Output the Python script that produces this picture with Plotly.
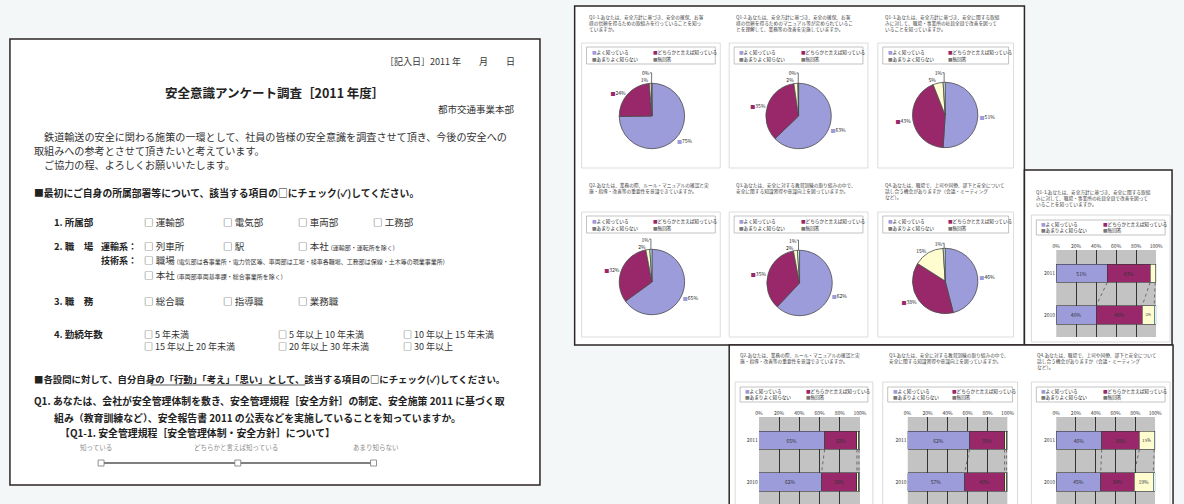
import plotly.graph_objects as go

W, H = 1184, 504
FONT = "Noto Sans CJK JP, Noto Sans, sans-serif"

# ---------------- data ----------------
answer_labels = ["よく知っている", "どちらかと言えば知っている", "あまりよく知らない", "無回答"]
answer_colors = ["#9c9cdb", "#99286a", "#fffcd0", "#cdf9f9"]
years = ["2011", "2010"]
tick_values = [0, 20, 40, 60, 80, 100]
tick_labels = ["0%", "20%", "40%", "60%", "80%", "100%"]

pie_q1_1 = [75, 24, 1, 0.3]
pie_q1_2 = [63, 35, 2, 0.3]
pie_q1_3 = [51, 43, 5, 1]
pie_q2 = [65, 32, 2, 1]
pie_q3 = [62, 35, 2, 1]
pie_q4 = [46, 38, 15, 1]

trend_q1_3_2011 = [51, 43, 5, 1]
trend_q1_3_2010 = [40, 46, 12, 2]
trend_q2_2011 = [65, 32, 2, 1]
trend_q2_2010 = [62, 35, 2, 1]
trend_q3_2011 = [62, 35, 2, 1]
trend_q3_2010 = [57, 40, 2, 1]
trend_q4_2011 = [46, 38, 15, 1]
trend_q4_2010 = [45, 34, 19, 2]

pie_questions = [
    "Q1-1.あなたは、安全方針に基づき、安全の確保、お客<br>様の信頼を得るための取組みを行っていることを知っ<br>ていますか。",
    "Q1-2.あなたは、安全方針に基づき、安全の確保、お客<br>様の信頼を得るためのマニュアル等が定められているこ<br>とを理解して、業務等の改善を実施していますか。",
    "Q1-3.あなたは、安全方針に基づき、安全に関する取組<br>みに対して、職場・事業所の社員全員で改善を図って<br>いることを知っていますか。",
    "Q2.あなたは、業務の際、ルール・マニュアルの確認と実<br>施・指導・改善等の重要性を意識できていますか。",
    "Q3.あなたは、安全に対する教育訓練の取り組みの中で、<br>安全に関する知識習得や意識向上を図っていますか。",
    "Q4.あなたは、職場で、上司や同僚、部下と安全について<br>話し合う機会がありますか（会議・ミーティング<br>など）。",
]
trend_questions = [
    "Q1-3.あなたは、安全方針に基づき、安全に関する取組<br>みに対して、職場・事業所の社員全員で改善を図って<br>いることを知っていますか。",
    "Q2.あなたは、業務の際、ルール・マニュアルの確認と実<br>施・指導・改善等の重要性を意識できていますか。",
    "Q3.あなたは、安全に対する教育訓練の取り組みの中で、<br>安全に関する知識習得や意識向上を図っていますか。",
    "Q4.あなたは、職場で、上司や同僚、部下と安全について<br>話し合う機会がありますか（会議・ミーティング<br>など）。",
]

pies = [pie_q1_1, pie_q1_2, pie_q1_3, pie_q2, pie_q3, pie_q4]
trends = [
    (trend_q1_3_2011, trend_q1_3_2010),
    (trend_q2_2011, trend_q2_2010),
    (trend_q3_2011, trend_q3_2010),
    (trend_q4_2011, trend_q4_2010),
]

# ---------------- layout geometry (pixels) ----------------
def fx(x):
    return x / W

def fy(y):
    return 1 - y / H

pie_centers = [(654, 116), (802, 116), (950, 115), (654, 282), (803, 283), (950, 281)]
pie_r = 33
pie_panels = [(583, 43, 723, 168), (732, 43, 872, 168), (882, 43, 1019, 168),
              (583, 212, 723, 337), (732, 212, 872, 337), (882, 212, 1019, 337)]
pie_q_top = [12, 12, 12, 180, 180, 180]

trend_panels = [(1037, 215, 1177, 342), (738, 382, 877, 530), (887, 382, 1023, 530), (1037, 382, 1177, 530)]
trend_plots = [(1062, 250, 1163, 337), (762, 417, 864, 504), (912, 417, 1013, 504), (1062, 417, 1162, 504)]
trend_q_pos = [(1040, 187), (741, 350), (891, 350), (1041, 350)]
cat_range = [1.53, -0.56]
bar_w = 0.44

fig = go.Figure()
shapes = []
annotations = []


def note(x, y, text, size, color="#333333", xanchor="left", yanchor="middle", align="left"):
    annotations.append(dict(x=x, y=y, xref="x", yref="y", text=text, showarrow=False,
                            xanchor=xanchor, yanchor=yanchor, align=align,
                            font=dict(size=size, color=color, family=FONT)))


def rect(x0, y0, x1, y1, fill="white", line="#2c2626", lw=1.5):
    shapes.append(dict(type="rect", xref="x", yref="y", x0=x0, y0=y0, x1=x1, y1=y1,
                       fillcolor=fill, line=dict(color=line, width=lw), layer="below"))


def legend_box(x0, y0, x1, y1, size=4.6):
    rect(x0, y0, x1, y1, fill="white", line="#9a9a9a", lw=0.6)
    colx = [x0 + 3, x0 + (x1 - x0) * 0.5]
    rows = [y0 + (y1 - y0) * 0.3, y0 + (y1 - y0) * 0.72]
    for i, (lab, col) in enumerate(zip(answer_labels, answer_colors)):
        note(colx[i % 2], rows[i // 2], f'<span style="color:{col if i < 2 else "#777"}">■</span>{lab}', size, "#222")


# base canvas axis (pixel coordinates)
fig.add_trace(go.Scatter(x=[], y=[], xaxis="x", yaxis="y", showlegend=False))

# ---- documents ----
rect(6, 39, 541, 485)                 # questionnaire
rect(576, 6, 1030, 345)               # pie charts sheet
rect(1030, 170, 1179, 345)            # right trend sheet
rect(732, 345, 1180, 520)             # bottom trend sheet

# ---- questionnaire text ----
B = "#333333"
note(518, 61, "［記入日］2011 年　　月　　日", 9, B, xanchor="right")
note(273, 92, "<b>安全意識アンケート調査［2011 年度］</b>", 12.5, "#222", xanchor="center")
note(518, 109, "都市交通事業本部", 9.5, B, xanchor="right")
note(28, 136, "　鉄道輸送の安全に関わる施策の一環として、社員の皆様の安全意識を調査させて頂き、今後の安全への", 10.1, B)
note(28, 150, "取組みへの参考とさせて頂きたいと考えています。", 10.1, B)
note(28, 164, "　ご協力の程、よろしくお願いいたします。", 10.1, B)
note(28, 193, "<b>■最初にご自身の所属部署等について、該当する項目の□にチェック(✓)してください。</b>", 9.8, "#222")

note(48, 222, "<b>1. 所属部</b>", 9.5, "#222")
for xx, t in zip([139, 219, 295, 370], ["□ 運輸部", "□ 電気部", "□ 車両部", "□ 工務部"]):
    note(xx, 222, t, 9.5, B)

note(48, 246, "<b>2. 職　場</b>", 9.5, "#222")
note(96, 246, "<b>運輸系：</b>", 9, "#222")
note(139, 246, "□ 列車所", 9.5, B)
note(219, 246, "□ 駅", 9.5, B)
note(295, 246, "□ 本社 <span style='font-size:6px'>(運輸部・運転所を除く)</span>", 9.5, B)
note(96, 260, "<b>技術系：</b>", 9, "#222")
note(139, 260, "□ 職場 <span style='font-size:6px'>(電気部は各事業所・電力管区等、車両部は工場・検車各職場、工務部は保線・土木等の現業事業所)</span>", 9.5, B)
note(139, 275, "□ 本社 <span style='font-size:6px'>(車両部車両基準課・総合事業所を除く)</span>", 9.5, B)

note(48, 301, "<b>3. 職　務</b>", 9.5, "#222")
for xx, t in zip([139, 219, 295], ["□ 総合職", "□ 指導職", "□ 業務職"]):
    note(xx, 301, t, 9.5, B)

note(48, 334, "<b>4. 勤続年数</b>", 9.5, "#222")
for xx, t in zip([139, 275, 401], ["□ 5 年未満", "□ 5 年以上 10 年未満", "□ 10 年以上 15 年未満"]):
    note(xx, 334, t, 9, B)
for xx, t in zip([139, 275, 401], ["□ 15 年以上 20 年未満", "□ 20 年以上 30 年未満", "□ 30 年以上"]):
    note(xx, 346, t, 9, B)

note(28, 379, "<b>■各設問に対して、自分自身の「行動」「考え」「思い」として、該当する項目の□にチェック(✓)してください。</b>", 9.4, "#222")
shapes.append(dict(type="line", xref="x", yref="y", x0=148, x1=304, y0=385, y1=385,
                   line=dict(color="#333333", width=0.8)))
note(28, 401, "<b>Q1. あなたは、会社が安全管理体制を敷き、安全管理規程［安全方針］の制定、安全施策 2011 に基づく取</b>", 9.9, "#222")
note(48, 418, "<b>組み（教育訓練など）、安全報告書 2011 の公表などを実施していることを知っていますか。</b>", 9.9, "#222")
note(54, 433, "<b>【Q1-1. 安全管理規程［安全管理体制・安全方針］について】</b>", 9.9, "#222")
note(75, 447, "知っている", 6.5, "#8a8a8a")
note(190, 447, "どちらかと言えば知っている", 6.5, "#8a8a8a")
note(350, 447, "あまり知らない", 6.5, "#8a8a8a")
shapes.append(dict(type="line", xref="x", yref="y", x0=98, x1=373, y0=463, y1=463,
                   line=dict(color="#555555", width=1.6)))
for xx in [98, 236, 373]:
    shapes.append(dict(type="rect", xref="x", yref="y", x0=xx - 3, x1=xx + 3, y0=460, y1=466,
                       fillcolor="white", line=dict(color="#777777", width=0.8)))

# ---- pie panels ----
for k, vals in enumerate(pies):
    x0, y0, x1, y1 = pie_panels[k]
    rect(x0, y0, x1, y1, fill="white", line="#d4d4d4", lw=0.8)
    note(x0 + 5, pie_q_top[k], pie_questions[k], 4.7, "#444", yanchor="top")
    legend_box(x0 + 5, y0 + 4, x1 - 5, y0 + 21)
    cx, cy = pie_centers[k]
    texts = [f'<span style="color:{c}">■</span>{round(v)}%' if i < 2 else f"{round(v)}%"
             for i, (v, c) in enumerate(zip(vals, answer_colors))]
    fig.add_trace(go.Pie(
        values=vals, labels=answer_labels, sort=False, direction="clockwise", rotation=0,
        marker=dict(colors=answer_colors, line=dict(color="#4a4a4a", width=0.8)),
        text=texts, textinfo="text", textposition="outside",
        textfont=dict(size=5, color="#222", family=FONT),
        domain=dict(x=[fx(cx - pie_r), fx(cx + pie_r)], y=[fy(cy + pie_r), fy(cy - pie_r)]),
        showlegend=False, hoverinfo="skip"))

# ---- trend (stacked bar) panels ----
layout_axes = {}
for k, (v2011, v2010) in enumerate(trends):
    n = k + 2
    xa, ya = f"x{n}", f"y{n}"
    px0, py0, px1, py1 = trend_plots[k]
    bx0, by0, bx1, by1 = trend_panels[k]
    rect(bx0, by0, bx1, by1, fill="white", line="#d0d0d0", lw=0.8)
    qx, qy = trend_q_pos[k]
    note(qx, qy, trend_questions[k], 4.7, "#444", yanchor="top")
    legend_box(bx0 + 5, by0 + 5, bx1 - 5, by0 + 20)
    for i in range(4):
        vals = [v2011[i], v2010[i]]
        fig.add_trace(go.Bar(
            x=vals, y=years, orientation="h", xaxis=xa, yaxis=ya, width=bar_w,
            marker=dict(color=answer_colors[i], line=dict(color="#333333", width=0.6)),
            text=[f"{v}%" if v >= 10 else "" for v in vals], textposition="inside",
            insidetextanchor="middle", textangle=0,
            textfont=dict(size=5, color="#333", family=FONT),
            showlegend=False, hoverinfo="skip"))
    # series lines between the two bars
    c11, c10 = 0, 0
    for i in range(3):
        c11 += v2011[i]
        c10 += v2010[i]
        shapes.append(dict(type="line", xref=xa, yref=ya, x0=c11, x1=c10,
                           y0=bar_w / 2, y1=1 - bar_w / 2,
                           line=dict(color="#444444", width=0.7, dash="dot")))
    shapes.append(dict(type="rect", xref=xa, yref=ya, x0=0, x1=100, y0=cat_range[1], y1=cat_range[0],
                       fillcolor="#c3c3c3", line=dict(width=0), layer="below"))
    layout_axes[f"xaxis{n}"] = dict(
        domain=[fx(px0), fx(px1)], range=[0, 100], side="top", anchor=ya,
        tickvals=tick_values, ticktext=tick_labels, tickfont=dict(size=5, color="#333", family=FONT),
        showgrid=True, gridcolor="#333333", gridwidth=0.8, zeroline=False, showline=False,
        ticks="", fixedrange=True)
    layout_axes[f"yaxis{n}"] = dict(
        domain=[fy(py1), fy(py0)], type="category", categoryorder="array", categoryarray=years,
        range=cat_range, anchor=xa, tickfont=dict(size=5, color="#333", family=FONT),
        showgrid=False, zeroline=False, showline=False, ticks="", fixedrange=True)

fig.update_layout(
    width=W, height=H, margin=dict(l=0, r=0, t=0, b=0),
    paper_bgcolor="#f3f7f7", plot_bgcolor="rgba(0,0,0,0)",
    barmode="stack", showlegend=False,
    font=dict(family=FONT),
    xaxis=dict(domain=[0, 1], range=[0, W], visible=False, fixedrange=True),
    yaxis=dict(domain=[0, 1], range=[H, 0], visible=False, fixedrange=True),
    shapes=shapes, annotations=annotations,
    **layout_axes,
)

fig.write_html("out.html", config={"displayModeBar": False},
               post_script="document.body.style.margin='0';document.body.style.overflow='hidden';")
